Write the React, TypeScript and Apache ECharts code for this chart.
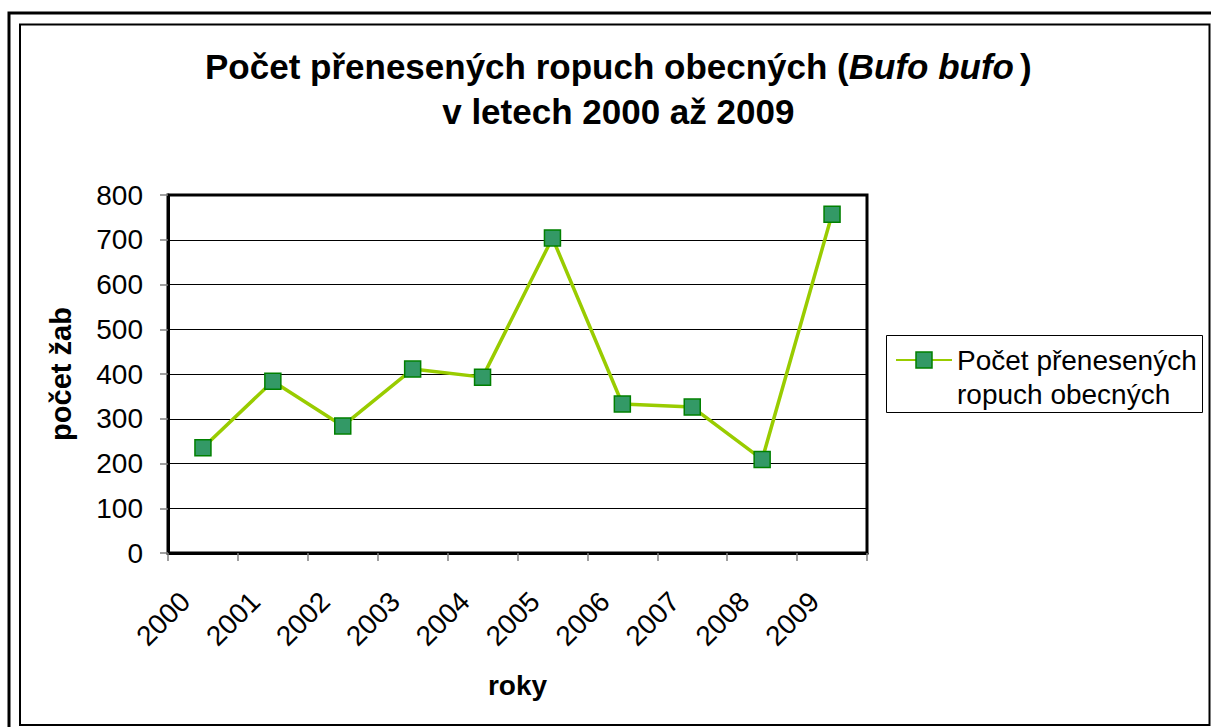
import React, { useEffect, useRef } from "react";
import * as echarts from "echarts";

const years = ["2000", "2001", "2002", "2003", "2004", "2005", "2006", "2007", "2008", "2009"];
const toads = [235, 384, 284, 411, 393, 704, 333, 326, 209, 757];
const seriesName = "Počet přenesených\nropuch obecných";
const yAxisName = "počet žab";
const xAxisName = "roky";

const FONT = "Arial, 'Liberation Sans', sans-serif";

export default function App() {
  const ref = useRef<HTMLDivElement>(null);
  useEffect(() => {
    if (!ref.current) return;
    const chart = echarts.init(ref.current, null, { renderer: "svg" });
    chart.setOption({
      animation: false,
      backgroundColor: "#ffffff",
      textStyle: { fontFamily: FONT },
      title: {
        left: 205,
        top: 44,
        padding: 0,
        text: "{b|Počet přenesených ropuch obecných (}{i|Bufo bufo}{p|)}\n{c|v letech 2000 až 2009}",
        textStyle: {
          rich: {
            b: { fontFamily: FONT, fontWeight: "bold", fontSize: 35, color: "#000", lineHeight: 45 },
            i: { fontFamily: FONT, fontWeight: "bold", fontStyle: "italic", fontSize: 35, color: "#000", lineHeight: 45 },
            p: { fontFamily: FONT, fontWeight: "bold", fontSize: 35, color: "#000", lineHeight: 45, padding: [0, 0, 0, 6] },
            c: { fontFamily: FONT, fontWeight: "bold", fontSize: 35, color: "#000", lineHeight: 45, align: "center" },
          },
        },
      },
      legend: {
        left: 895,
        top: 309,
        padding: 0,
        itemWidth: 56,
        itemHeight: 20,
        itemStyle: { borderColor: "#008000", borderWidth: 1.5 },
        formatter: (name: string) => "\n" + name,
        textStyle: { fontFamily: FONT, fontSize: 28, color: "#000", lineHeight: 34 },
        data: [seriesName],
      },
      graphic: [
        { type: "rect", shape: { x: 9, y: 13, width: 1400, height: 900 }, style: { fill: "none", stroke: "#000", lineWidth: 3 }, silent: true },
        { type: "rect", shape: { x: 20, y: 24.5, width: 1189.5, height: 700.5 }, style: { fill: "none", stroke: "#000", lineWidth: 2 }, silent: true },
        { type: "rect", shape: { x: 886.5, y: 335.5, width: 316, height: 77 }, style: { fill: "none", stroke: "#000", lineWidth: 1 }, silent: true },
      ],
      grid: {
        left: 168,
        top: 195,
        right: 1211 - 867,
        bottom: 727 - 553,
        show: true,
        borderColor: "#000",
        borderWidth: 3,
      },
      xAxis: {
        type: "category",
        data: years,
        boundaryGap: true,
        name: xAxisName,
        nameLocation: "middle",
        nameGap: 118,
        nameTextStyle: { fontFamily: FONT, fontWeight: "bold", fontSize: 28, color: "#000" },
        axisLine: { show: true, lineStyle: { color: "#000", width: 3 } },
        axisTick: { show: true, length: 8, lineStyle: { color: "#808080", width: 1.5 } },
        axisLabel: {
          rotate: 45,
          margin: 26,
          padding: [0, 25, 0, 0],
          fontFamily: FONT,
          fontSize: 28,
          color: "#000",
          interval: 0,
        },
        splitLine: { show: false },
      },
      yAxis: {
        type: "value",
        min: 0,
        max: 800,
        interval: 100,
        name: yAxisName,
        nameLocation: "middle",
        nameGap: 93,
        nameTextStyle: { fontFamily: FONT, fontWeight: "bold", fontSize: 29, color: "#000" },
        axisLine: { show: true, lineStyle: { color: "#000", width: 3 } },
        axisTick: { show: true, length: 8, lineStyle: { color: "#808080", width: 1.5 } },
        axisLabel: { margin: 25, fontFamily: FONT, fontSize: 28, color: "#000" },
        splitLine: { show: true, lineStyle: { color: "#000", width: 1 } },
      },
      series: [
        {
          name: seriesName,
          type: "line",
          data: toads,
          symbol: "rect",
          symbolSize: 16,
          lineStyle: { color: "#99CC00", width: 3.5 },
          itemStyle: { color: "#339966", borderColor: "#008000", borderWidth: 1.5 },
          z: 3,
        },
      ],
    });
    return () => chart.dispose();
  }, []);
  return (
    <div
      ref={ref}
      style={{ position: "fixed", left: 0, top: 0, width: 1211, height: 727, background: "#fff" }}
    />
  );
}
